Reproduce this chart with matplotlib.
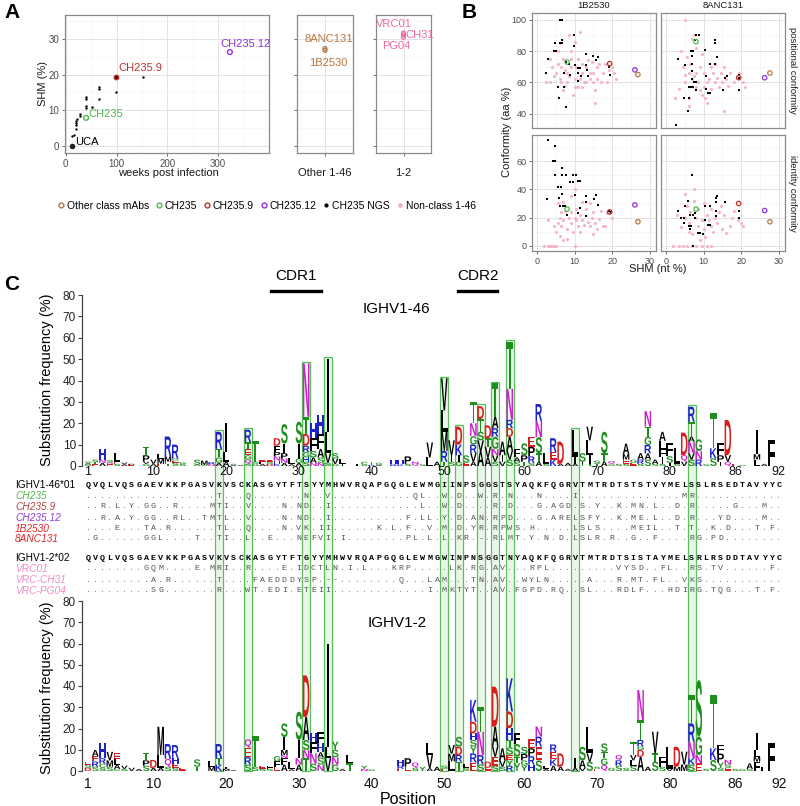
import matplotlib
matplotlib.use("Agg")
import matplotlib.pyplot as plt
import matplotlib.transforms as mtransforms
from matplotlib.textpath import TextPath
from matplotlib.patches import PathPatch, Rectangle
from matplotlib.font_manager import FontProperties
from matplotlib.lines import Line2D

plt.rcParams['font.family'] = ['Liberation Sans', 'DejaVu Sans']

# ---------------- panel A data ----------------
ngs_weeks = [13, 16, 20, 20, 20, 20, 22, 28, 28, 40, 40, 40, 40, 52, 65, 65, 65, 99, 152]
ngs_shm = [2.8, 3.2, 4.7, 5.9, 6.5, 7.1, 7.6, 8.4, 9.1, 10.6, 11.2, 13.1, 13.6, 11.0, 13.2, 15.9, 16.4, 15.2, 19.4]
uca = (13, 0.0)
ch235 = (40, 7.9)
ch235_9 = (99, 19.3)
ch235_12 = (323, 26.3)
other146_shm = [26.8, 27.3]
vrc_shm = [30.5, 31.1, 31.6]

# ---------------- panel B data ----------------
b_black_x = [
    [6.2, 6.7, 9.9, 9.9, 4.8, 6.0, 4.6, 5.1, 6.7, 6.7, 3.0, 7.8, 8.4, 10.1, 11.0, 11.5, 13.0, 15.0, 16.1, 13.0,
     13.2, 15.6, 11.0, 2.5, 7.1, 8.8, 13.6, 11.0, 11.7, 5.7, 7.3, 5.8, 7.7, 19.2, 19.3],
    [8.1, 8.8, 7.7, 13.0, 13.0, 10.3, 6.6, 7.2, 3.3, 6.8, 13.5, 6.8, 11.6, 13.0, 5.0, 6.8, 10.7, 16.2, 15.8, 19.4,
     19.4, 6.9, 7.4, 7.9, 6.0, 6.7, 7.2, 10.7, 11.1, 11.6, 8.1, 15.1, 19.4, 4.7, 6.0, 5.8, 2.8],
    [3.0, 4.7, 4.2, 4.9, 4.7, 6.7, 6.7, 7.8, 9.7, 10.4, 8.8, 9.5, 11.0, 11.5, 5.7, 6.4, 5.8, 6.7, 2.8, 10.0,
     13.1, 13.1, 15.2, 15.6, 16.2, 6.2, 6.8, 7.4, 11.5, 8.0, 11.0, 13.1, 19.2, 19.6],
    [6.8, 3.3, 5.9, 5.0, 6.3, 7.2, 4.1, 4.7, 7.7, 7.7, 6.1, 6.7, 4.7, 6.5, 10.3, 11.1, 11.6, 10.5, 11.6, 13.2,
     13.2, 13.5, 13.2, 13.2, 15.7, 19.4, 19.4, 8.5, 9.0, 9.8, 7.2],
]
b_black_y = [
    [100, 100, 90, 83, 85, 85, 80, 80, 87, 85, 75, 73, 72, 71, 69, 69, 78, 77, 76, 71,
     68, 74, 66, 66, 66, 65, 64, 61, 64, 57, 57, 50, 44, 70, 65],
    [90, 90, 87, 87, 85, 81, 80, 80, 75, 77, 76, 72, 72, 72, 71, 67, 64, 64, 63, 65,
     63, 62, 60, 60, 57, 57, 57, 56, 53, 53, 55, 55, 55, 50, 50, 42, 33],
    [75, 71, 60, 60, 50, 55, 50, 50, 50, 50, 45, 45, 46, 46, 42, 42, 34, 37, 33, 36,
     35, 31, 33, 36, 29, 28, 28, 28, 27, 22, 23, 21, 25, 24],
    [50, 25, 32, 28, 22, 22, 20, 20, 23, 20, 14, 14, 16, 12, 18, 15, 15, 28, 28, 31,
     34, 35, 25, 21, 31, 25, 20, 9, 9, 8, 0],
]
b_pink_x = [
    [3.5, 4.0, 3.5, 5.0, 5.5, 5.5, 6.0, 6.5, 6.5, 7.0, 7.0, 7.5, 8.0, 8.0, 8.5, 9.0, 9.0, 9.0, 10.0, 10.0,
     10.5, 11.0, 11.0, 11.5, 12.0, 12.0, 12.5, 13.0, 13.0, 14.0, 14.0, 14.5, 15.0, 15.0, 15.5, 15.5, 16.0, 16.0,
     17.0, 17.5, 18.0, 18.5, 19.0, 20.0, 21.0, 10.0, 11.5, 9.5, 6.0, 4.5, 2.5, 12.0, 13.5, 16.5, 20.5, 7.5, 8.5],
    [2.5, 3.5, 4.0, 4.5, 5.0, 5.0, 5.5, 6.0, 6.5, 6.0, 7.0, 7.5, 7.0, 8.0, 8.0, 8.0, 8.5, 9.0, 9.0, 9.5,
     10.0, 10.0, 10.5, 11.0, 11.0, 11.5, 12.0, 12.0, 12.5, 13.0, 13.5, 14.0, 14.5, 15.0, 15.5, 15.5, 16.0, 16.5,
     17.0, 18.0, 19.0, 19.5, 20.5, 21.0, 5.0, 6.0, 9.5, 13.0, 7.5],
    [2.0, 3.0, 3.5, 4.0, 4.5, 5.0, 10.0, 4.5, 5.0, 5.5, 6.0, 6.0, 6.5, 7.0, 7.0, 7.5, 8.0, 8.0, 8.5, 9.0,
     9.0, 9.5, 10.0, 10.5, 10.5, 11.0, 11.5, 11.5, 12.0, 12.5, 13.0, 13.5, 14.0, 14.5, 15.0, 15.0, 15.5, 16.0,
     16.5, 17.0, 17.5, 18.0, 18.5, 19.5, 20.0, 5.5, 7.0, 9.0, 12.0, 10.0, 6.5, 3.0, 14.0],
    [2.0, 3.5, 4.5, 5.5, 7.0, 8.0, 9.5, 11.0, 12.0, 4.0, 5.0, 5.0, 5.5, 6.0, 6.0, 6.5, 7.0, 7.5, 7.5, 8.0,
     8.5, 8.5, 9.0, 9.5, 10.0, 10.5, 11.0, 11.5, 12.0, 12.0, 12.5, 13.0, 13.5, 14.0, 15.0, 15.5, 16.0, 17.0,
     17.5, 18.0, 19.0, 20.0, 20.5, 3.0, 10.0, 14.5],
]
b_pink_y = [
    [75, 70, 60, 66, 80, 72, 62, 70, 60, 55, 75, 68, 66, 60, 64, 80, 70, 75, 62, 57,
     70, 57, 75, 62, 72, 66, 60, 70, 60, 66, 62, 73, 60, 66, 55, 47, 62, 70,
     60, 66, 72, 60, 68, 70, 62, 86, 92, 52, 85, 64, 60, 57, 74, 72, 66, 58, 90],
    [50, 56, 80, 70, 65, 60, 76, 66, 72, 50, 88, 90, 62, 82, 66, 57, 60, 70, 55, 78,
     66, 57, 50, 60, 47, 62, 70, 56, 66, 60, 63, 57, 66, 60, 70, 42, 62, 58,
     66, 60, 63, 66, 60, 57, 100, 45, 52, 72, 64],
    [0, 0, 0, 0, 0, 0, 0, 14, 10, 16, 7, 20, 14, 4, 18, 25, 12, 5, 20, 16,
     24, 10, 20, 18, 26, 14, 10, 22, 18, 15, 26, 17, 14, 20, 8, 24, 16, 12,
     19, 25, 14, 14, 23, 24, 20, 30, 31, 35, 31, 40, 24, 18, 30],
    [0, 0, 0, 0, 0, 0, 0, 0, 0, 13, 20, 37, 28, 16, 10, 24, 8, 40, 32, 20,
     14, 26, 4, 18, 12, 6, 22, 18, 14, 26, 10, 20, 16, 24, 12, 22, 9, 14,
     20, 25, 18, 16, 14, 22, 30, 28],
]
b_green = [(8.0, 73), (8.0, 86), (8.0, 26), (8.0, 26)]
b_red = [(19.3, 72), (19.3, 63), (19.3, 24), (19.3, 30)]
b_purple = [(26.0, 68), (26.2, 63), (26.0, 29), (26.2, 25)]
b_brown = [(26.8, 65), (27.6, 66), (26.8, 17), (27.6, 17)]
b_col_titles = ["1B2530", "8ANC131"]
b_row_titles = ["positional conformity", "identity conformity"]

# ---------------- panel C data ----------------
germ_146 = "QVQLVQSGAEVKKPGASVKVSCKASGYTFTSYYMHWVRQAPGQGLEWMGIINPSGGSTSYAQKFQGRVTMTRDTSTSTVYMELSSLRSEDTAVYYC"
germ_12 = "QVQLVQSGAEVKKPGASVKVSCKASGYTFTGYYMHWVRQAPGQGLEWMGWINPNSGGTNYAQKFQGRVTMTRDTSISTAYMELSRLRSDDTAVYYC"
mut_ch235 = {19: 'T', 23: 'Q', 31: 'N', 34: 'V', 46: 'Q', 47: 'L', 50: 'W', 52: 'D', 55: 'W', 57: 'R', 59: 'N',
             63: 'N', 68: 'I', 83: 'M', 84: 'R'}
mut_ch235_9 = {3: 'R', 5: 'L', 7: 'Y', 9: 'G', 10: 'G', 13: 'R', 18: 'M', 19: 'T', 20: 'I', 23: 'V', 28: 'N',
               30: 'N', 31: 'D', 34: 'I', 47: 'L', 50: 'W', 52: 'D', 57: 'R', 59: 'D', 63: 'G', 65: 'A', 66: 'G',
               67: 'D', 69: 'S', 71: 'Y', 74: 'K', 76: 'M', 77: 'N', 79: 'L', 82: 'D', 84: 'R', 90: 'G', 94: 'M'}
mut_ch235_12 = {3: 'R', 5: 'A', 7: 'Y', 9: 'G', 10: 'G', 13: 'R', 14: 'L', 17: 'T', 18: 'M', 19: 'T', 20: 'L',
                23: 'V', 28: 'N', 30: 'N', 31: 'D', 34: 'I', 45: 'F', 47: 'L', 48: 'L', 50: 'Y', 52: 'D', 54: 'A',
                55: 'N', 57: 'R', 58: 'P', 59: 'D', 63: 'G', 65: 'A', 66: 'R', 67: 'E', 68: 'L', 69: 'S', 70: 'F',
                71: 'Y', 74: 'K', 76: 'M', 77: 'E', 79: 'L', 82: 'D', 84: 'R', 88: 'Y', 89: 'D', 94: 'M'}
mut_1b2530 = {5: 'E', 9: 'T', 10: 'A', 12: 'R', 19: 'T', 20: 'L', 23: 'Q', 28: 'N', 30: 'V', 31: 'K', 33: 'I',
              34: 'I', 41: 'K', 43: 'L', 45: 'F', 48: 'V', 50: 'M', 52: 'D', 54: 'Y', 55: 'R', 57: 'R', 58: 'P',
              59: 'W', 60: 'S', 62: 'H', 68: 'L', 69: 'S', 70: 'L', 71: 'S', 76: 'M', 77: 'E', 78: 'I', 79: 'L',
              82: 'T', 84: 'T', 87: 'K', 89: 'D', 93: 'T', 95: 'F'}
mut_8anc131 = {2: 'G', 9: 'G', 10: 'G', 11: 'L', 16: 'T', 19: 'T', 20: 'I', 23: 'L', 26: 'E', 30: 'N', 31: 'E',
               32: 'F', 33: 'V', 34: 'I', 36: 'I', 45: 'P', 46: 'L', 48: 'L', 50: 'L', 52: 'K', 53: 'R', 55: '-',
               57: 'R', 58: 'L', 59: 'M', 60: 'T', 62: 'Y', 64: 'N', 66: 'D', 68: 'L', 69: 'S', 70: 'L', 71: 'R',
               73: 'R', 76: 'G', 79: 'F', 84: 'R', 85: 'G', 87: 'P', 88: 'D'}
mut_vrc01 = {9: 'G', 10: 'Q', 11: 'M', 16: 'E', 18: 'M', 19: 'R', 20: 'I', 23: 'R', 28: 'E', 30: 'I', 31: 'D',
             32: 'C', 33: 'T', 34: 'L', 35: 'N', 37: 'I', 39: 'L', 43: 'K', 44: 'R', 45: 'P', 51: 'L', 52: 'K',
             54: 'R', 55: 'G', 57: 'A', 58: 'V', 62: 'R', 63: 'P', 64: 'L', 74: 'V', 75: 'Y', 76: 'S', 77: 'D',
             80: 'F', 81: 'L', 84: 'R', 85: 'S', 87: 'T', 88: 'V', 95: 'F'}
mut_ch31 = {10: 'A', 12: 'R', 19: 'T', 24: 'F', 25: 'A', 26: 'E', 27: 'D', 28: 'D', 29: 'D', 30: 'Y', 31: 'S',
            32: 'P', 34: '-', 35: '-', 44: 'Q', 48: 'L', 49: 'A', 50: 'M', 54: 'T', 55: 'N', 57: 'A', 58: 'V',
            61: 'W', 62: 'Y', 63: 'L', 64: 'N', 70: 'A', 74: 'R', 76: 'M', 77: 'T', 79: 'F', 80: 'L', 83: 'V',
            84: 'K', 85: 'S'}
mut_pg04 = {10: 'S', 11: 'G', 19: 'R', 23: 'W', 24: 'T', 26: 'E', 27: 'D', 28: 'I', 30: 'E', 31: 'T', 32: 'E',
            33: 'I', 34: 'I', 48: 'I', 50: 'M', 51: 'K', 52: 'T', 53: 'Y', 54: 'T', 57: 'A', 58: 'V', 60: 'F',
            61: 'G', 62: 'P', 63: 'D', 65: 'R', 66: 'Q', 69: 'S', 70: 'L', 74: 'R', 75: 'D', 76: 'L', 77: 'F',
            81: 'H', 82: 'D', 83: 'I', 84: 'R', 85: 'G', 87: 'T', 88: 'Q', 89: 'G', 93: 'T', 95: 'F'}

row_names = ["IGHV1-46*01", "CH235", "CH235.9", "CH235.12", "1B2530", "8ANC131",
             "IGHV1-2*02", "VRC01", "VRC-CH31", "VRC-PG04"]
row_germ = [germ_146, germ_146, germ_146, germ_146, germ_146, germ_146, germ_12, germ_12, germ_12, germ_12]
row_muts = [None, mut_ch235, mut_ch235_9, mut_ch235_12, mut_1b2530, mut_8anc131, None, mut_vrc01, mut_ch31, mut_pg04]
row_colors = ["black", "#55B955", "#B04848", "#8E3BDB", "#E8242A", "#E8242A", "black", "#F28CC8", "#F28CC8", "#F28CC8"]

tick_cols = [1, 10, 20, 30, 40, 50, 61, 71, 81, 90, 96]
tick_labels = ["1", "10", "20", "30", "40", "50", "60", "70", "80", "86", "92"]
highlight_cols = [19, 23, 31, 34, 50, 52, 55, 57, 59, 68, 84]
cdr1_cols = (26.2, 33.0)
cdr2_cols = (51.9, 57.3)

# sequence logo stacks: (column, letters bottom->top, heights in %)
logo_146 = [
    (1, "GAS", [0.7, 0.6, 0.8]), (2, "ETS", [0.8, 1.0, 1.2]), (3, "ANH", [1.5, 1.5, 5.0]),
    (4, "EQS", [0.8, 0.8, 1.2]), (5, "SEL", [1.0, 1.0, 4.0]), (6, "AV", [0.8, 0.8]), (7, "EP", [0.5, 0.5]),
    (9, "GVPT", [1.0, 1.0, 3.0, 4.0]), (10, "AV", [1.0, 2.0]), (11, "EML", [1.0, 2.5, 2.0]),
    (12, "TEMR", [1.0, 1.0, 2.5, 9.3]), (13, "SEGR", [1.5, 1.0, 1.0, 6.5]), (14, "SG", [1.0, 0.8]),
    (16, "GS", [0.5, 2.5]), (17, "SM", [0.5, 2.0]), (18, "NR", [0.8, 1.0]), (19, "AGTR", [1.5, 2.5, 4.0, 8.0]),
    (20, "ALI", [2.0, 4.5, 13.5]), (21, "AS", [0.5, 0.5]), (22, "V", [0.5]),
    (23, "SQGETR", [1.0, 2.0, 2.0, 3.0, 3.0, 6.0]), (24, "GST", [1.0, 1.0, 9.7]), (25, "AFE", [1.0, 1.0, 1.0]),
    (26, "DSE", [1.0, 1.0, 1.0]), (27, "KHNPFD", [1.0, 1.5, 2.0, 2.0, 3.0, 3.5]),
    (28, "ANPIS", [1.5, 2.0, 2.5, 4.5, 9.1]), (29, "AL", [0.8, 3.0]), (30, "AGIS", [1.5, 2.0, 7.0, 10.2]),
    (31, "SHGRDTN", [2.0, 2.0, 2.5, 3.0, 5.5, 8.0, 25.0]), (32, "NASFH", [1.5, 2.5, 3.0, 6.0, 7.0]),
    (33, "NSAFH", [1.5, 2.5, 4.0, 7.0, 9.0]), (34, "SVLI", [1.5, 4.5, 10.0, 34.0]), (35, "GVS", [1.0, 2.5, 2.5]),
    (36, "IL", [1.0, 2.5]), (38, "I", [1.0]), (39, "SC", [0.5, 1.5]), (40, "RT", [0.5, 1.5]),
    (41, "AG", [0.5, 1.0]), (43, "RH", [0.8, 2.0]), (44, "KH", [0.8, 2.0]), (45, "SP", [1.0, 3.5]),
    (46, "QN", [1.0, 1.0]), (47, "S", [0.8]), (48, "LV", [4.0, 7.0]), (49, "A", [2.0]),
    (50, "TRMLV", [2.0, 5.0, 9.0, 10.0, 15.0]), (51, "SIV", [2.0, 3.0, 7.0]), (52, "GIKD", [2.0, 3.0, 5.0, 8.4]),
    (53, "ES", [1.5, 3.5]), (54, "AVRGNT", [2.0, 4.0, 4.0, 4.0, 6.0, 10.0]),
    (55, "AVSTD", [7.0, 5.0, 4.0, 6.0, 6.0]), (56, "AVTD", [4.0, 5.0, 4.0, 6.0]),
    (57, "SVNGRAT", [2.0, 3.0, 3.0, 5.7, 4.0, 5.3, 15.6]), (58, "VIA", [2.0, 3.0, 6.4]),
    (59, "SVADRNT", [3.0, 4.0, 6.7, 4.0, 3.9, 14.5, 22.0]), (60, "SAF", [2.0, 2.0, 4.0]),
    (61, "TPS", [2.0, 3.0, 5.6]), (62, "SRPE", [1.5, 3.0, 4.5, 4.7]), (63, "ATSNR", [2.0, 4.0, 7.5, 7.5, 8.0]),
    (64, "SL", [1.0, 5.0]), (65, "KER", [3.0, 3.5, 6.5]), (66, "AD", [1.0, 10.4]), (67, "A", [1.5]),
    (68, "AIL", [1.0, 3.4, 12.4]), (69, "TIS", [1.0, 1.0, 4.0]), (70, "TILV", [1.0, 4.0, 7.0, 6.4]),
    (71, "TS", [1.0, 1.5]), (72, "ATS", [2.0, 4.0, 10.0]), (73, "GQ", [0.8, 1.5]), (74, "S", [1.0]),
    (75, "SEMA", [1.0, 2.0, 2.5, 5.0]), (76, "EG", [1.5, 1.5]), (77, "SRA", [1.0, 2.0, 3.0]),
    (78, "SARGTN", [3.0, 2.9, 3.9, 3.9, 4.7, 7.3]), (79, "SA", [1.0, 2.0]),
    (80, "SIFLA", [1.0, 3.0, 3.9, 3.9, 4.2]), (81, "ISF", [1.5, 3.1, 6.0]), (82, "SL", [1.0, 7.3]),
    (83, "VQD", [2.0, 3.1, 10.5]), (84, "SVNATR", [3.0, 2.9, 5.5, 2.3, 7.0, 7.0]), (85, "RNG", [3.0, 4.0, 5.5]),
    (86, "S", [0.8]), (87, "SKT", [3.6, 4.7, 16.3]), (88, "IPF", [2.0, 3.0, 5.6]), (89, "QVD", [2.0, 3.1, 16.4]),
    (90, "E", [1.0]), (91, "G", [0.5]), (93, "LMI", [3.0, 2.5, 11.3]), (94, "A", [1.0]), (95, "F", [12.1]),
]
logo_12 = [
    (1, "DSE", [1.5, 1.5, 1.4]), (2, "SREA", [2.0, 2.5, 2.5, 2.9]), (3, "SCRH", [1.5, 2.0, 2.5, 7.0]),
    (4, "SMV", [2.0, 3.0, 4.0]), (5, "CALE", [1.0, 2.0, 2.5, 2.8]), (6, "SV", [1.0, 1.5]), (7, "V", [1.5]),
    (8, "A", [1.0]), (9, "SPT", [2.5, 2.5, 3.6]), (10, "AD", [1.5, 3.7]), (11, "ALM", [1.5, 6.0, 13.3]),
    (12, "SQR", [2.0, 3.7, 7.0]), (13, "SEHR", [1.5, 2.0, 2.7, 6.0]), (14, "E", [1.5]), (16, "TS", [2.0, 3.5]),
    (18, "ML", [2.0, 2.8]), (19, "KTR", [3.0, 3.0, 6.7]), (20, "MI", [1.0, 1.0]), (21, "A", [0.5]),
    (23, "SREQ", [3.0, 3.5, 4.5, 3.9]), (24, "ST", [2.0, 14.4]), (25, "SE", [1.0, 1.5]), (26, "SF", [1.0, 1.5]),
    (27, "EFG", [2.0, 2.5, 2.5]), (28, "AFNMIS", [3.0, 3.0, 1.5, 2.4, 6.1, 6.4]), (29, "AL", [0.8, 3.6]),
    (30, "ANIS", [3.0, 3.0, 8.6, 13.3]), (31, "TNSAD", [5.9, 4.0, 4.7, 10.9, 19.5]),
    (32, "SNFH", [3.5, 4.8, 5.5, 3.9]), (33, "NSAHF", [3.0, 3.3, 2.5, 4.2, 5.5]), (34, "VLI", [6.0, 5.4, 48.6]),
    (35, "GNSY", [3.0, 3.5, 3.5, 3.8]), (36, "A", [1.0]), (37, "TL", [3.6, 3.9]), (39, "NY", [1.0, 1.5]),
    (40, "G", [0.8]), (44, "ERH", [1.0, 1.5, 2.7]), (45, "EP", [2.0, 4.0]), (46, "SQ", [1.5, 2.5]),
    (47, "Y", [2.0]), (48, "AVL", [1.3, 6.2, 5.8]), (49, "A", [2.0]), (50, "ES", [1.0, 1.5]),
    (51, "LMV", [4.5, 3.6, 4.1]), (52, "TRDS", [4.4, 3.1, 3.9, 4.7]), (53, "SL", [1.5, 2.0]),
    (54, "ERYSHDK", [4.0, 4.3, 3.2, 3.1, 3.1, 5.5, 10.2]), (55, "SRNT", [3.1, 4.4, 11.0, 11.8]),
    (56, "ED", [1.5, 2.9]), (57, "SEVAD", [2.5, 4.2, 4.8, 9.4, 18.8]), (58, "SVA", [2.0, 3.0, 5.7]),
    (59, "RYESTHDK", [2.5, 2.5, 2.7, 3.5, 3.5, 5.5, 7.8, 15.6]), (60, "YTSF", [3.7, 3.0, 6.0, 5.0]),
    (61, "YGPS", [2.5, 2.5, 3.0, 3.4]), (62, "HRPE", [3.0, 4.0, 3.7, 4.3]), (63, "SERN", [5.0, 6.5, 4.7, 4.7]),
    (64, "AL", [1.0, 1.5]), (65, "AKER", [2.5, 3.0, 3.5, 3.5]), (66, "AD", [2.0, 6.3]), (67, "A", [1.0]),
    (68, "AI", [1.5, 4.5]), (69, "VAS", [1.5, 3.5, 6.4]), (70, "SVL", [4.4, 3.9, 12.6]), (71, "ES", [1.0, 1.0]),
    (72, "QGTS", [2.8, 3.1, 3.1, 4.0]), (73, "G", [1.5]), (74, "SRQ", [2.5, 2.5, 2.5]), (75, "S", [1.5]),
    (76, "SLVT", [2.5, 2.5, 2.5, 6.3]), (77, "ADGRTN", [6.7, 3.2, 1.6, 3.1, 9.4, 14.1]), (78, "A", [2.0]),
    (79, "STV", [4.4, 3.9, 10.2]), (80, "SF", [2.0, 4.7]), (81, "VL", [1.0, 10.4]), (82, "MD", [2.0, 9.4]),
    (83, "MV", [3.0, 6.1]), (84, "SKNRT", [3.0, 3.0, 7.8, 8.6, 13.4]), (85, "ENGS", [3.6, 3.9, 8.7, 26.6]),
    (86, "S", [1.0]), (87, "SKT", [5.2, 5.5, 25.1]), (88, "SYPF", [1.5, 2.5, 4.2, 4.0]),
    (89, "ESN", [1.5, 1.5, 2.2]), (90, "S", [1.0]), (91, "G", [1.0]), (92, "SA", [1.0, 2.6]),
    (93, "FMLI", [4.4, 2.3, 3.2, 7.8]), (94, "F", [2.0]), (95, "F", [13.0]),
]

AA_COLOR = {}
for a in "AVLIPFMW":
    AA_COLOR[a] = "#000000"
for a in "STGYC":
    AA_COLOR[a] = "#1E8E1E"
for a in "KRH":
    AA_COLOR[a] = "#1E22CC"
for a in "DE":
    AA_COLOR[a] = "#D81E1E"
for a in "NQ":
    AA_COLOR[a] = "#CC1ECC"

C_BROWN = "#B8763E"
C_GREEN = "#4DB84D"
C_RED = "#B8342C"
C_PURPLE = "#9030E0"
C_PINK = "#F4B4C4"
C_PINKTXT = "#F06AA8"

W, H = 800, 806
fig = plt.figure(figsize=(W / 100, H / 100), dpi=100)


def px_axes(l, t, r, b):
    return fig.add_axes([l / W, 1 - b / H, (r - l) / W, (b - t) / H])


def fx(x):
    return x / W


def fy(y):
    return 1 - y / H


def bw_style(ax, xmaj, xmin, ymaj, ymin, fs=7):
    ax.set_xticks(xmaj)
    ax.set_xticks(xmin, minor=True)
    ax.set_yticks(ymaj)
    ax.set_yticks(ymin, minor=True)
    ax.grid(which='major', color='#E3E3E3', lw=0.7)
    ax.grid(which='minor', color='#F1F1F1', lw=0.4)
    ax.set_axisbelow(True)
    for s in ax.spines.values():
        s.set_color('#8A8A8A')
        s.set_linewidth(0.9)
    ax.tick_params(which='major', length=2.5, width=0.6, color='#555555', labelsize=fs,
                   labelcolor='#4D4D4D', pad=1.5)
    ax.tick_params(which='minor', length=0)


# ================= panel A =================
axA = px_axes(65, 15, 269, 153)
axA.set_xlim(-1.4, 400)
axA.set_ylim(-1.96, 36.7)
bw_style(axA, [0, 100, 200, 300], [50, 150, 250, 350], [0, 10, 20, 30], [5, 15, 25, 35])
axA.scatter(ngs_weeks, ngs_shm, s=3, c='black', zorder=3, lw=0)
axA.scatter([uca[0]], [uca[1]], s=16, c='#222222', zorder=3, lw=0)
axA.scatter([ch235[0]], [ch235[1]], s=12, facecolors='none', edgecolors=C_GREEN, lw=1, zorder=4)
axA.scatter([ch235_9[0]], [ch235_9[1]], s=18, c=C_RED, zorder=4, lw=0)
axA.scatter([ch235_9[0]], [ch235_9[1]], s=4, c='#300000', zorder=5, lw=0)
axA.scatter([ch235_12[0]], [ch235_12[1]], s=12, facecolors='none', edgecolors=C_PURPLE, lw=1, zorder=4)
axA.text(18, 1.0, "UCA", fontsize=8, color='black', va='center', ha='left')
axA.text(45, 9.0, "CH235", fontsize=8, color=C_GREEN, va='center', ha='left')
axA.text(104, 21.8, "CH235.9", fontsize=8, color=C_RED, va='center', ha='left')
axA.text(354, 28.5, "CH235.12", fontsize=8, color=C_PURPLE, va='center', ha='center', clip_on=False)

for (l, r, lab) in [(297, 353, "Other 1-46"), (376, 431, "1-2")]:
    axf = px_axes(l, 15, r, 153)
    axf.set_xlim(-1, 1)
    axf.set_ylim(-1.96, 36.7)
    bw_style(axf, [0], [], [0, 10, 20, 30], [5, 15, 25, 35])
    axf.set_xticklabels([])
    axf.set_yticklabels([])
    fig.text(fx((l + r) / 2), fy(173), lab, fontsize=8, ha='center', va='center', color='#1A1A1A')
    if lab == "Other 1-46":
        axf.scatter([0] * len(other146_shm), other146_shm, s=8, facecolors='none', edgecolors=C_BROWN, lw=0.9)
        axf.text(0.14, 30.1, "8ANC131", fontsize=8, color=C_BROWN, ha='center', va='center', clip_on=False)
        axf.text(0.13, 23.2, "1B2530", fontsize=8, color=C_BROWN, ha='center', va='center', clip_on=False)
    else:
        axf.scatter([0] * len(vrc_shm), vrc_shm, s=8, facecolors='none', edgecolors=C_PINKTXT, lw=0.9)
        axf.text(-0.36, 34.2, "VRC01", fontsize=8, color=C_PINKTXT, ha='center', va='center', clip_on=False)
        axf.text(0.08, 31.1, "CH31", fontsize=8, color=C_PINKTXT, ha='left', va='center', clip_on=False)
        axf.text(-0.28, 28.1, "PG04", fontsize=8, color=C_PINKTXT, ha='center', va='center', clip_on=False)

fig.text(fx(168), fy(173), "weeks post infection", fontsize=8, ha='center', va='center', color='#1A1A1A')
fig.text(fx(43), fy(84), "SHM (%)", fontsize=8, rotation=90, ha='center', va='center', color='#1A1A1A')

legend_handles = [
    Line2D([], [], ls='none', marker='o', ms=3.5, mfc='none', mec=C_BROWN, mew=1),
    Line2D([], [], ls='none', marker='o', ms=3.5, mfc='none', mec=C_GREEN, mew=1),
    Line2D([], [], ls='none', marker='o', ms=3.5, mfc='none', mec=C_RED, mew=1),
    Line2D([], [], ls='none', marker='o', ms=3.5, mfc='none', mec=C_PURPLE, mew=1),
    Line2D([], [], ls='none', marker='o', ms=2, mfc='black', mec='black'),
    Line2D([], [], ls='none', marker='o', ms=2.5, mfc=C_PINK, mec=C_PINK),
]
legend_labels = ["Other class mAbs", "CH235", "CH235.9", "CH235.12", "CH235 NGS", "Non-class 1-46"]
fig.legend(legend_handles, legend_labels, loc='center', bbox_to_anchor=(fx(266), fy(206)), ncol=6,
           frameon=False, fontsize=7.5, handletextpad=0.1, columnspacing=0.5, handlelength=0.9)

fig.text(fx(4), fy(13), "A", fontsize=15, fontweight='bold', ha='left', va='center')
fig.text(fx(462), fy(13), "B", fontsize=15, fontweight='bold', ha='left', va='center')
fig.text(fx(4), fy(285), "C", fontsize=15, fontweight='bold', ha='left', va='center')

# ================= panel B =================
b_boxes = [(532, 13, 656, 128), (661, 13, 785, 128), (532, 135, 656, 251), (661, 135, 785, 251)]
for i, (l, t, r, b) in enumerate(b_boxes):
    ax = px_axes(l, t, r, b)
    ax.set_xlim(-1.3, 31.6)
    if i < 2:
        ax.set_ylim(30.9, 104.3)
        bw_style(ax, [0, 10, 20, 30], [5, 15, 25], [40, 60, 80, 100], [50, 70, 90], fs=6.5)
    else:
        ax.set_ylim(-3.8, 78.7)
        bw_style(ax, [0, 10, 20, 30], [5, 15, 25], [0, 20, 40, 60], [10, 30, 50, 70], fs=6.5)
    if i < 2:
        ax.tick_params(axis='x', length=0)
        ax.set_xticklabels([])
    if i % 2 == 1:
        ax.tick_params(axis='y', length=0)
        ax.set_yticklabels([])
    ax.scatter(b_pink_x[i], b_pink_y[i], s=5, c=C_PINK, lw=0, zorder=2)
    ax.scatter(b_black_x[i], b_black_y[i], s=3, c='black', lw=0, marker='s', zorder=3)
    for (pt, col) in [(b_green, C_GREEN), (b_red, C_RED), (b_purple, C_PURPLE), (b_brown, C_BROWN)]:
        ax.scatter([pt[i][0]], [pt[i][1]], s=10, facecolors='none', edgecolors=col, lw=0.9, zorder=4)
    if i < 2:
        fig.text(fx((l + r) / 2), fy(5), b_col_titles[i], fontsize=6.8, ha='center', va='center', color='#1A1A1A')
    if i % 2 == 1:
        fig.text(fx(793), fy((t + b) / 2), b_row_titles[i // 2], fontsize=6.8, rotation=-90,
                 ha='center', va='center', color='#1A1A1A')
fig.text(fx(507), fy(132), "Conformity (aa %)", fontsize=8, rotation=90, ha='center', va='center', color='#1A1A1A')
fig.text(fx(658), fy(269), "SHM (nt %)", fontsize=8, ha='center', va='center', color='#1A1A1A')

# ================= panel C =================
FP = FontProperties(family='Liberation Sans', weight='bold')
GLYPHS = {}


def letter_path(ch):
    if ch not in GLYPHS:
        GLYPHS[ch] = TextPath((0, 0), ch, size=10, prop=FP)
    return GLYPHS[ch]


def draw_logo(ax, stacks):
    for col, letters, heights in stacks:
        y0 = 0.0
        for ch, h in zip(letters, heights):
            p = letter_path(ch)
            ext = p.get_extents()
            w = 0.24 if ch == 'I' else 0.9
            tr = (mtransforms.Affine2D()
                  .translate(-ext.x0, -ext.y0)
                  .scale(w / ext.width, h / ext.height)
                  .translate(col - w / 2, y0))
            ax.add_patch(PathPatch(tr.transform_path(p), fc=AA_COLOR[ch], ec='none', lw=0, zorder=3))
            y0 += h


def logo_axes(t, b, pad, fs):
    ax = px_axes(82.3, t, 782.4, b)
    ax.set_xlim(0.216, 96.5)
    ax.set_ylim(0, 80)
    ax.patch.set_visible(False)
    for s in ['top', 'right', 'bottom']:
        ax.spines[s].set_visible(False)
    ax.spines['left'].set_color('#444444')
    ax.spines['left'].set_linewidth(0.9)
    ax.set_yticks(range(0, 81, 10))
    ax.tick_params(axis='y', length=3, width=0.8, color='#444444', labelsize=8.5, pad=1.5, labelcolor='#222222')
    ax.set_xticks(tick_cols)
    ax.set_xticklabels(tick_labels)
    ax.tick_params(axis='x', length=0, labelsize=fs, pad=pad, labelcolor='#111111')
    return ax


ax_top = logo_axes(295, 466, 0.0, 9)
ax_bot = logo_axes(601, 771, 4, 10)
draw_logo(ax_top, logo_146)
draw_logo(ax_bot, logo_12)

# highlight boxes through both logos and the alignment
ybot = ax_top.transData.inverted().transform(ax_bot.transData.transform((0, 0)))[1]
stack_top = {c: sum(hs) for c, _, hs in logo_146}
for c in highlight_cols:
    top = stack_top.get(c, 2) + 0.8
    ax_top.add_patch(Rectangle((c - 0.55, ybot), 1.1, top - ybot, fc='#E9F7E9', ec='#5CBE5C',
                               lw=0.9, zorder=1, clip_on=False))

trans = mtransforms.blended_transform_factory(ax_top.transData, fig.transFigure)
row_y = [485.5, 496, 507, 518, 529, 539, 558, 569, 580, 591]
for name, germ, muts, color, y in zip(row_names, row_germ, row_muts, row_colors, row_y):
    germline = muts is None
    fig.text(fx(15), fy(y), name, fontsize=7.3, color=color, ha='left', va='center',
             style='normal' if germline else 'italic')
    seq = list(germ) if germline else ['.'] * len(germ)
    if not germline:
        for k, v in muts.items():
            seq[k - 1] = v
    for j, ch in enumerate(seq):
        if germline:
            fig.text(j + 1, fy(y), ch, transform=trans, fontsize=6, family='Liberation Mono',
                     fontweight='bold', color='black', ha='center', va='center')
        else:
            fig.text(j + 1, fy(y), ch, transform=trans, fontsize=6, family='Liberation Mono',
                     color='#8A8A8A' if ch == '.' else '#555555', ha='center', va='center')

# CDR bars and titles
for (c0, c1), lab in [(cdr1_cols, "CDR1"), (cdr2_cols, "CDR2")]:
    fig.add_artist(Line2D([c0, c1], [fy(291), fy(291)], transform=trans, color='black', lw=2.4))
    fig.text((c0 + c1) / 2, fy(276), lab, transform=trans, fontsize=11, ha='center', va='center')
fig.text(fx(396), fy(309), "IGHV1-46", fontsize=11, ha='center', va='center')
fig.text(fx(397), fy(623), "IGHV1-2", fontsize=11, ha='center', va='center')
fig.text(fx(47), fy(380), "Substitution frequency (%)", fontsize=10.5, rotation=90, ha='center', va='center')
fig.text(fx(47), fy(688), "Substitution frequency (%)", fontsize=10.5, rotation=90, ha='center', va='center')
fig.text(fx(408), fy(799), "Position", fontsize=11.5, ha='center', va='center')

fig.savefig("out.png", dpi=100)
